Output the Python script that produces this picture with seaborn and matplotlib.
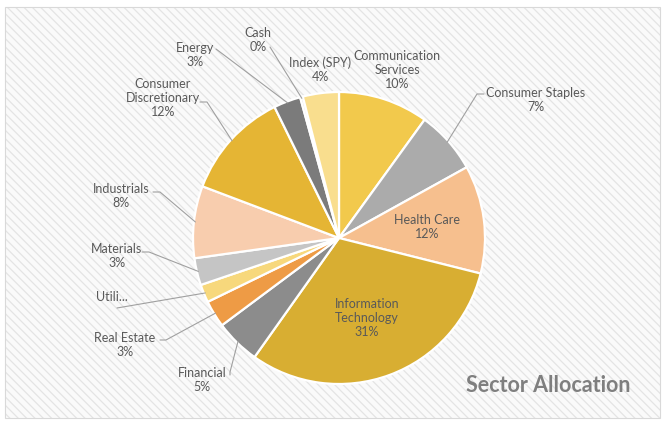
import matplotlib
matplotlib.use("Agg")
import matplotlib.pyplot as plt
import seaborn as sns
import numpy as np
from matplotlib.patches import Rectangle

# ---- data ----
sectors = ["Communication\nServices", "Consumer Staples", "Health Care", "Information\nTechnology",
           "Financial", "Real Estate", "Utilities", "Materials", "Industrials",
           "Consumer\nDiscretionary", "Energy", "Cash", "Index (SPY)"]
weights = [10, 7, 12, 31, 5, 3, 2, 3, 8, 12, 3, 0.3, 4]
pct_text = ["10%", "7%", "12%", "31%", "5%", "3%", "", "3%", "8%", "12%", "3%", "0%", "4%"]
display_names = ["Communication\nServices", "Consumer Staples", "Health Care", "Information\nTechnology",
                 "Financial", "Real Estate", "Utili...", "Materials", "Industrials",
                 "Consumer\nDiscretionary", "Energy", "Cash", "Index (SPY)"]
colors = ["#F2C94C", "#ABABAB", "#F6BF8E", "#D8AE32", "#8C8C8C", "#EE9B45", "#F7D87C",
          "#C5C5C5", "#F8CDAE", "#E5B534", "#7B7B7B", "#E0E0E0", "#F9DE8E"]
title = "Sector Allocation"

# ---- layout (image pixel coords, y down) ----
W, H = 665, 422
CX, CY, R = 339, 238, 146
label_pos = {  # text centre
    0: (397, 70), 1: (536, 100), 2: (427, 227), 3: (367, 318), 4: (202, 380),
    5: (125, 345), 6: (112, 297), 7: (117, 256), 8: (121, 196), 9: (163, 98),
    10: (195, 55), 11: (258, 40), 12: (320, 70),
}
leader_start = {  # (start, elbow)
    1: ((484, 94), (477, 94)),
    4: ((230, 375), (230, 372)),
    5: ((160, 340), (166, 340)),
    6: ((117, 308), (117, 308)),
    7: ((142, 252), (149, 252)),
    8: ((153, 192), (160, 192)),
    9: ((200, 102), (207, 102)),
    10: ((216, 49), (216, 49)),
    11: ((270, 47), (270, 47)),
}

sns.set_theme(style="white")
plt.rcParams['font.family'] = ['Lato', 'DejaVu Sans']
plt.rcParams['hatch.linewidth'] = 0.9
plt.rcParams['hatch.color'] = '#E4E4E4'

fig = plt.figure(figsize=(W / 100, H / 100), dpi=100)
fig.patch.set_facecolor('white')
ax = fig.add_axes([0, 0, 1, 1])

def P(x, y):
    return (x, H - y)

# background panel with diagonal stripes
ax.add_patch(Rectangle((5, H - 418), 655, 411, facecolor='#FAFAFA', edgecolor='#E4E4E4',
                       hatch='\\\\\\\\', linewidth=0, zorder=0))
ax.add_patch(Rectangle((5, H - 418), 655, 411, facecolor='none', edgecolor='#D9D9D9',
                       linewidth=0.8, zorder=0.5))

wedges, _ = ax.pie(weights, colors=colors, startangle=90, counterclock=False,
                   center=P(CX, CY), radius=R,
                   wedgeprops=dict(edgecolor='white', linewidth=1.6))
for w in wedges:
    w.set_zorder(2)

ax.set_xlim(0, W)
ax.set_ylim(0, H)
ax.set_aspect('auto')
ax.axis('off')

total = sum(weights)
cum = np.cumsum([0] + weights)
for i, name in enumerate(display_names):
    txt = name if pct_text[i] == "" else name + "\n" + pct_text[i]
    x, y = label_pos[i]
    ax.text(*P(x, y), txt, ha='center', va='center', fontsize=9, color='#595959',
            linespacing=1.2, zorder=4)
    if i in leader_start:
        mid = (cum[i] + cum[i + 1]) / 2 / total * 2 * np.pi
        ex = CX + R * 0.99 * np.sin(mid)
        ey = CY - R * 0.99 * np.cos(mid)
        (sx, sy), (bx, by) = leader_start[i]
        xs = [sx, bx, ex]
        ys = [H - sy, H - by, H - ey]
        ax.plot(xs, ys, color='#A0A0A0', linewidth=0.8, zorder=3)

ax.text(*P(548, 386), title, ha='center', va='center', fontsize=15.5, fontweight='bold',
        color='#7F7F7F', zorder=4)

fig.savefig('out.png', dpi=100, facecolor='white')
